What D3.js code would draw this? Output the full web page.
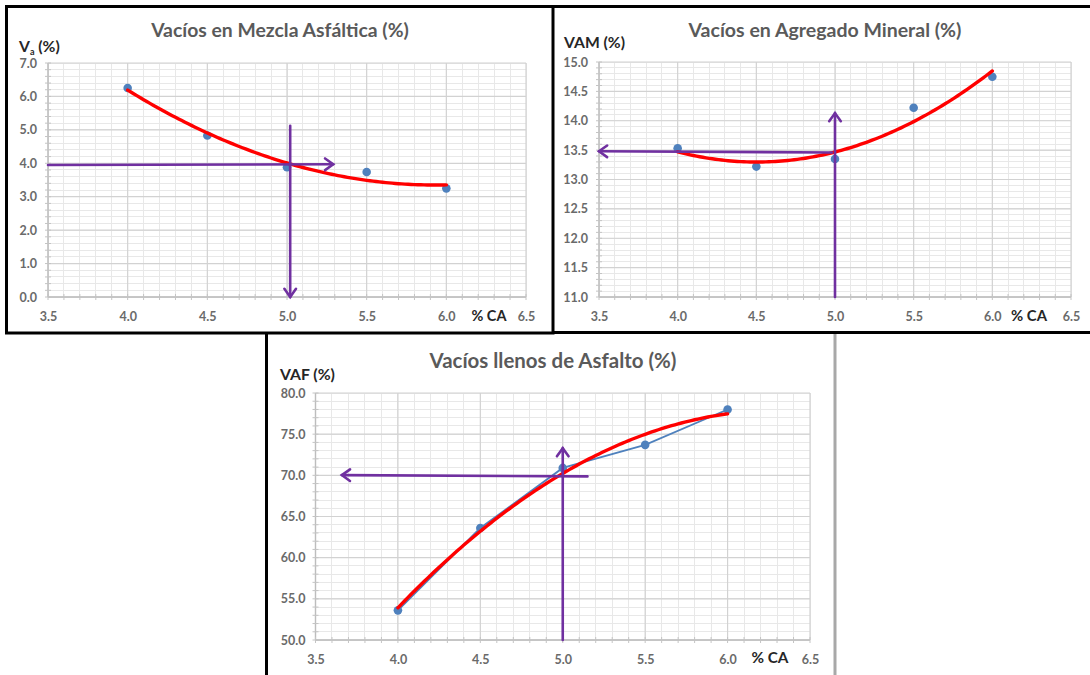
<!DOCTYPE html>
<html>
<head>
<meta charset="utf-8">
<script src="https://cdn.jsdelivr.net/npm/d3@7"></script>
<style>
  html, body { margin: 0; padding: 0; background: #fff; }
  svg { display: block; }
  text { font-family: Lato, "Open Sans", sans-serif; }
</style>
</head>
<body>
<svg id="chart" width="1090" height="675"></svg>
<script>
// ---------------- DATA ----------------
const caValues   = [4.0, 4.5, 5.0, 5.5, 6.0];          // % CA (asphalt content)
const vaValues   = [6.25, 4.83, 3.88, 3.74, 3.25];     // Vacíos en Mezcla Asfáltica (%)
const vamValues  = [13.53, 13.22, 13.35, 14.22, 14.75];// Vacíos en Agregado Mineral (%)
const vafValues  = [53.6, 63.6, 70.9, 73.7, 78.0];     // Vacíos llenos de Asfalto (%)

const xTickLabels   = ["3.5", "4.0", "4.5", "5.0", "5.5", "6.0", "6.5"];
const vaTickLabels  = ["0.0", "1.0", "2.0", "3.0", "4.0", "5.0", "6.0", "7.0"];
const vamTickLabels = ["11.0", "11.5", "12.0", "12.5", "13.0", "13.5", "14.0", "14.5", "15.0"];
const vafTickLabels = ["50.0", "55.0", "60.0", "65.0", "70.0", "75.0", "80.0"];

const titles = ["Vacíos en Mezcla Asfáltica (%)", "Vacíos en Agregado Mineral (%)", "Vacíos llenos de Asfalto (%)"];
const xAxisTitle = "% CA";

// design-value guide arrows: [start, end(arrow tip)] in data units
const vaArrowH  = [[3.5, 3.95], [5.29, 3.97]];
const vaArrowV  = [[5.02, 5.12], [5.02, 0.0]];
const vamArrowH = [[4.98, 13.46], [3.5, 13.48]];
const vamArrowV = [[5.0, 11.0], [5.0, 14.13]];
const vafArrowH = [[5.15, 69.87], [3.66, 70.03]];
const vafArrowV = [[5.0, 50.0], [5.0, 73.3]];

// ---------------- HELPERS ----------------
const svg = d3.select("#chart");

function quadFit(xs, ys) {
  // least squares y = a + b x + c x^2 (like a spreadsheet polynomial trendline)
  const n = xs.length;
  let s = [0,0,0,0,0], t = [0,0,0];
  for (let i = 0; i < n; i++) {
    let p = 1;
    for (let k = 0; k < 5; k++) { s[k] += p; p *= xs[i]; }
    t[0] += ys[i]; t[1] += ys[i]*xs[i]; t[2] += ys[i]*xs[i]*xs[i];
  }
  const M = [[s[0],s[1],s[2],t[0]],[s[1],s[2],s[3],t[1]],[s[2],s[3],s[4],t[2]]];
  for (let i = 0; i < 3; i++) {
    for (let j = i+1; j < 3; j++) {
      const f = M[j][i]/M[i][i];
      for (let k = i; k < 4; k++) M[j][k] -= f*M[i][k];
    }
  }
  const c = [0,0,0];
  for (let i = 2; i >= 0; i--) {
    let v = M[i][3];
    for (let k = i+1; k < 3; k++) v -= M[i][k]*c[k];
    c[i] = v/M[i][i];
  }
  return x => c[0] + c[1]*x + c[2]*x*x;
}

function fitWidth(sel, w) {
  const node = sel.node();
  const cur = parseFloat(sel.attr("font-size"));
  const len = node.getComputedTextLength();
  if (len > 0) sel.attr("font-size", (cur * w / len).toFixed(2));
  return sel;
}

function drawArrow(g, x, y, pts, color) {
  const [p0, p1] = pts;
  const X0 = x(p0[0]), Y0 = y(p0[1]), X1 = x(p1[0]), Y1 = y(p1[1]);
  g.append("line").attr("x1", X0).attr("y1", Y0).attr("x2", X1).attr("y2", Y1)
    .attr("stroke", color).attr("stroke-width", 2.6).attr("stroke-linecap", "round");
  const ang = Math.atan2(Y1 - Y0, X1 - X0);
  const L = 10, spread = 0.62;
  const a1 = ang + Math.PI - spread, a2 = ang + Math.PI + spread;
  g.append("path")
    .attr("d", `M${X1 + L*Math.cos(a1)},${Y1 + L*Math.sin(a1)} L${X1},${Y1} L${X1 + L*Math.cos(a2)},${Y1 + L*Math.sin(a2)}`)
    .attr("fill", "none").attr("stroke", color).attr("stroke-width", 2.6)
    .attr("stroke-linejoin", "miter").attr("stroke-linecap", "round");
}

function drawChart(cfg) {
  const g = svg.append("g");
  const x = d3.scaleLinear().domain([3.5, 6.5]).range([cfg.left, cfg.right]);
  const y = d3.scaleLinear().domain(cfg.yDomain).range([cfg.bottom, cfg.top]);

  // minor grid
  const xMinor = x.ticks(30), xMajor = x.ticks(6);
  const yMinor = y.ticks(cfg.yMinorCount), yMajor = y.ticks(cfg.yMajorCount);
  g.append("g").selectAll("line").data(xMinor).join("line")
    .attr("x1", d => x(d)).attr("x2", d => x(d)).attr("y1", cfg.top).attr("y2", cfg.bottom)
    .attr("stroke", "#e8e8e8").attr("stroke-width", 1).attr("shape-rendering", "crispEdges");
  g.append("g").selectAll("line").data(yMinor).join("line")
    .attr("y1", d => y(d)).attr("y2", d => y(d)).attr("x1", cfg.left).attr("x2", cfg.right)
    .attr("stroke", "#e8e8e8").attr("stroke-width", 1).attr("shape-rendering", "crispEdges");
  // major grid
  g.append("g").selectAll("line").data(xMajor).join("line")
    .attr("x1", d => x(d)).attr("x2", d => x(d)).attr("y1", cfg.top).attr("y2", cfg.bottom)
    .attr("stroke", "#d2d2d2").attr("stroke-width", 1.2);
  g.append("g").selectAll("line").data(yMajor).join("line")
    .attr("y1", d => y(d)).attr("y2", d => y(d)).attr("x1", cfg.left).attr("x2", cfg.right)
    .attr("stroke", "#d2d2d2").attr("stroke-width", 1.2);

  // axis lines with minor tick marks
  g.append("line").attr("x1", cfg.left).attr("x2", cfg.left).attr("y1", cfg.top).attr("y2", cfg.bottom)
    .attr("stroke", "#bdbdbd").attr("stroke-width", 1.3);
  g.append("line").attr("x1", cfg.left).attr("x2", cfg.right).attr("y1", cfg.bottom).attr("y2", cfg.bottom)
    .attr("stroke", "#bdbdbd").attr("stroke-width", 1.3);
  g.append("g").selectAll("line").data(yMinor).join("line")
    .attr("x1", cfg.left - 3).attr("x2", cfg.left + 3).attr("y1", d => y(d)).attr("y2", d => y(d))
    .attr("stroke", "#c4c4c4").attr("stroke-width", 1);
  g.append("g").selectAll("line").data(xMinor).join("line")
    .attr("x1", d => x(d)).attr("x2", d => x(d)).attr("y1", cfg.bottom - 3).attr("y2", cfg.bottom + 3)
    .attr("stroke", "#c4c4c4").attr("stroke-width", 1);

  // tick labels via d3 axes
  const yAxis = d3.axisLeft(y).tickValues(cfg.yTicks.map(Number)).tickFormat((d, i) => cfg.yTicks[i])
    .tickSize(0).tickPadding(cfg.yPad);
  const ya = g.append("g").attr("transform", `translate(${cfg.left},0)`).call(yAxis);
  ya.select(".domain").remove();
  ya.selectAll("text").attr("font-family", "Lato, sans-serif").attr("font-size", 12.5)
    .attr("font-weight", 700).attr("fill", "#6a6a6a");

  const xAxis = d3.axisBottom(x).tickValues(xTickLabels.map(Number)).tickFormat((d, i) => xTickLabels[i])
    .tickSize(0).tickPadding(cfg.xPad);
  const xa = g.append("g").attr("transform", `translate(0,${cfg.bottom})`).call(xAxis);
  xa.select(".domain").remove();
  xa.selectAll("text").attr("font-family", "Lato, sans-serif").attr("font-size", 12.5)
    .attr("font-weight", 700).attr("fill", "#6a6a6a");

  // connecting series line (only where present)
  if (cfg.connect) {
    g.append("path").datum(caValues.map((c, i) => [c, cfg.values[i]]))
      .attr("d", d3.line().x(d => x(d[0])).y(d => y(d[1])))
      .attr("fill", "none").attr("stroke", "#4f81bd").attr("stroke-width", 1.8);
  }

  // data points
  g.append("g").selectAll("circle").data(caValues.map((c, i) => [c, cfg.values[i]])).join("circle")
    .attr("cx", d => x(d[0])).attr("cy", d => y(d[1])).attr("r", 4.3).attr("fill", "#4f81bd");

  // polynomial trendline (order 2) fitted to the series
  const f = quadFit(caValues, cfg.values);
  const xsFit = d3.range(0, 101).map(i => caValues[0] + (caValues[caValues.length-1] - caValues[0]) * i / 100);
  g.append("path").datum(xsFit)
    .attr("d", d3.line().x(d => x(d)).y(d => y(f(d))))
    .attr("fill", "none").attr("stroke", "#ff0000").attr("stroke-width", 3.4).attr("stroke-linecap", "round");

  // guide arrows
  drawArrow(g, x, y, cfg.arrowH, "#7030a0");
  drawArrow(g, x, y, cfg.arrowV, "#7030a0");

  // title
  const t = g.append("text").attr("x", cfg.titleX).attr("y", cfg.titleY).attr("text-anchor", "middle")
    .attr("font-size", 18).attr("font-weight", 700).attr("fill", "#5a5a5a").text(cfg.title);
  fitWidth(t, cfg.titleW);

  // y-axis title
  const yt = g.append("text").attr("x", cfg.yTitleX).attr("y", cfg.yTitleY)
    .attr("font-size", 15).attr("font-weight", 700).attr("fill", "#262626");
  if (cfg.yTitleSub) {
    yt.append("tspan").text(cfg.yTitleMain);
    yt.append("tspan").attr("font-size", 9).attr("dy", 3).text(cfg.yTitleSub);
    yt.append("tspan").attr("dy", -3).text(" (%)");
  } else {
    yt.text(cfg.yTitleMain);
  }
  fitWidth(yt, cfg.yTitleW);

  // x-axis title
  const xt = g.append("text").attr("x", cfg.xTitleX).attr("y", cfg.xTitleY).attr("text-anchor", "middle")
    .attr("font-size", 15).attr("font-weight", 700).attr("fill", "#262626").text(xAxisTitle);
  fitWidth(xt, cfg.xTitleW);
}

// ---------------- CHARTS ----------------
drawChart({
  left: 48, right: 526, top: 63, bottom: 297,
  yDomain: [0, 7], yMajorCount: 7, yMinorCount: 35, yTicks: vaTickLabels,
  values: vaValues, connect: false, arrowH: vaArrowH, arrowV: vaArrowV,
  yPad: 11, xPad: 15,
  title: titles[0], titleX: 280, titleY: 37, titleW: 258,
  yTitleMain: "V", yTitleSub: "a", yTitleX: 19, yTitleY: 52, yTitleW: 41,
  xTitleX: 489, xTitleY: 321, xTitleW: 35
});

drawChart({
  left: 599, right: 1071, top: 62, bottom: 297,
  yDomain: [11, 15], yMajorCount: 8, yMinorCount: 40, yTicks: vamTickLabels,
  values: vamValues, connect: false, arrowH: vamArrowH, arrowV: vamArrowV,
  yPad: 11, xPad: 15,
  title: titles[1], titleX: 825, titleY: 37, titleW: 273,
  yTitleMain: "VAM (%)", yTitleX: 564, yTitleY: 48, yTitleW: 61,
  xTitleX: 1029, xTitleY: 321, xTitleW: 36
});

drawChart({
  left: 315.5, right: 810, top: 393, bottom: 640,
  yDomain: [50, 80], yMajorCount: 6, yMinorCount: 30, yTicks: vafTickLabels,
  values: vafValues, connect: true, arrowH: vafArrowH, arrowV: vafArrowV,
  yPad: 10, xPad: 15,
  title: titles[2], titleX: 553, titleY: 368, titleW: 247,
  yTitleMain: "VAF (%)", yTitleX: 280, yTitleY: 380, yTitleW: 55,
  xTitleX: 770, xTitleY: 663, xTitleW: 37
});

// ---------------- FRAMES ----------------
const frames = svg.append("g").attr("fill", "none");
frames.append("rect").attr("x", 6.5).attr("y", 6.5).attr("width", 546.5).attr("height", 326.5)
  .attr("stroke", "#000").attr("stroke-width", 3);
frames.append("line").attr("x1", 553).attr("x2", 1090).attr("y1", 6.5).attr("y2", 6.5)
  .attr("stroke", "#000").attr("stroke-width", 3);
frames.append("line").attr("x1", 553).attr("x2", 1090).attr("y1", 332.5).attr("y2", 332.5)
  .attr("stroke", "#000").attr("stroke-width", 3);
frames.append("line").attr("x1", 266.5).attr("x2", 266.5).attr("y1", 333).attr("y2", 675)
  .attr("stroke", "#000").attr("stroke-width", 3);
frames.append("line").attr("x1", 835).attr("x2", 835).attr("y1", 334).attr("y2", 675)
  .attr("stroke", "#a8a8a8").attr("stroke-width", 3);
</script>
</body>
</html>
